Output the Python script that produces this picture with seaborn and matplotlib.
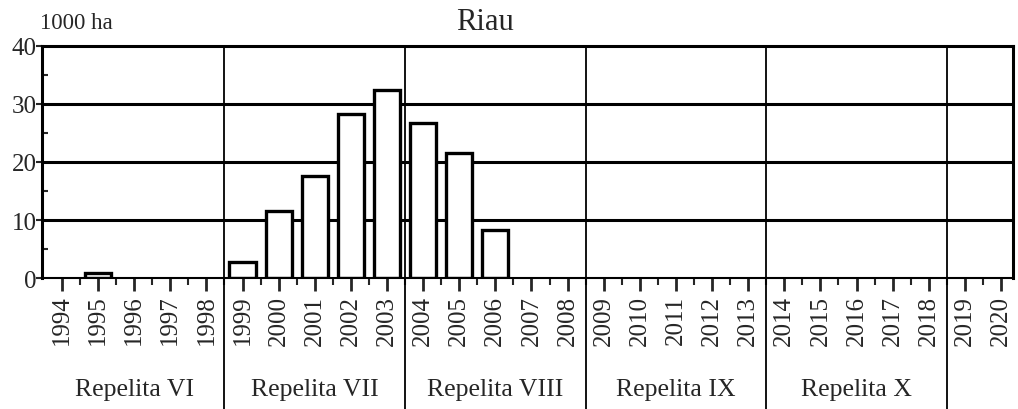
import numpy as np
import pandas as pd
import matplotlib
matplotlib.use('Agg')
import matplotlib.pyplot as plt
import seaborn as sns
from matplotlib.ticker import MultipleLocator

# data (1000 ha)
all_years = [str(y) for y in range(1994, 2021)]
bar_years = ['1995', '1999', '2000', '2001', '2002', '2003', '2004', '2005', '2006']
bar_values = [0.8, 2.8, 11.6, 17.6, 28.3, 32.4, 26.8, 21.5, 8.2]
periods = ['Repelita VI', 'Repelita VII', 'Repelita VIII', 'Repelita IX', 'Repelita X', '']
period_len = [5, 5, 5, 5, 5, 2]

sns.set_style('white')
plt.rcParams['font.family'] = ['Liberation Serif', 'DejaVu Serif']

df = pd.DataFrame({'year': bar_years, 'ha': bar_values})

fig = plt.figure(figsize=(10.18, 4.10), dpi=100)
ax = fig.add_axes([0.0413, 0.3195, 0.9537, 0.5659])

sns.barplot(data=df, x='year', y='ha', order=all_years, color='white',
            edgecolor='black', linewidth=2.4, width=0.72, saturation=1, ax=ax)

ax.set_ylim(0, 40)
ax.set_xlim(-0.55, len(all_years) - 0.67)
ax.set_axisbelow(True)
for v in [10, 20, 30]:
    ax.axhline(v, color='black', lw=2.2, zorder=0)

for s in ax.spines.values():
    s.set_color('black')
    s.set_linewidth(2.2)
ax.spines['bottom'].set_linewidth(1.5)

ax.yaxis.set_major_locator(MultipleLocator(10))
ax.yaxis.set_minor_locator(MultipleLocator(5))
ax.tick_params(axis='y', which='major', direction='out', length=4, width=1.5,
               labelsize=18, pad=0, left=True)
ax.tick_params(axis='y', which='minor', direction='in', length=4, width=1.5, left=True)
ax.set_xticks(range(len(all_years)))
ax.set_xticklabels(all_years, rotation=90, fontsize=18)
ax.set_xticks(np.arange(0.5, len(all_years) - 1, 1), minor=True)
ax.tick_params(axis='x', which='major', direction='out', length=9, width=2, pad=3, bottom=True)
ax.tick_params(axis='x', which='minor', direction='out', length=5, width=1.5, bottom=True)
ax.set_xlabel('')
ax.set_ylabel('')

# period separators and labels
start = 0
for name, n in zip(periods, period_len):
    end = start + n
    if end < len(all_years):
        ax.axvline(end - 0.5, ymin=-0.57, ymax=1, color='black', lw=1.3, clip_on=False)
    if name:
        ax.text((start + end - 1) / 2, -0.48, name, transform=ax.get_xaxis_transform(),
                ha='center', va='center', fontsize=18.5)
    start = end

fig.text(0.476, 0.945, 'Riau', ha='center', va='center', fontsize=22)
fig.text(0.039, 0.942, '1000 ha', ha='left', va='center', fontsize=16.5)

fig.savefig('out.png', dpi=100)
